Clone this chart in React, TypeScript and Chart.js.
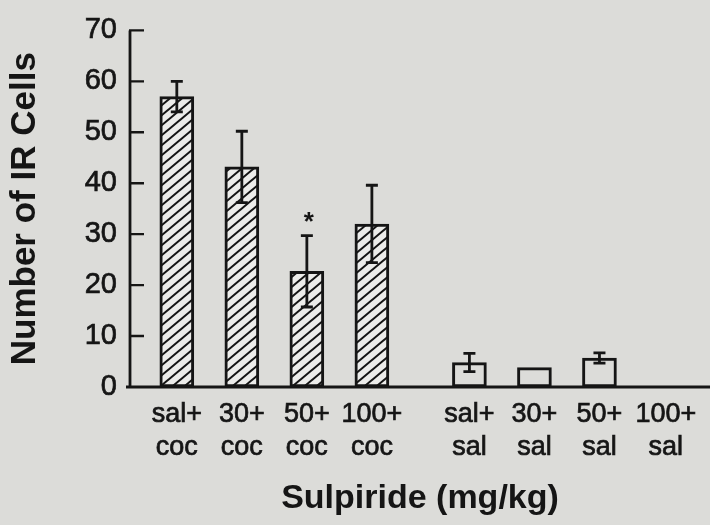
import React, { useEffect, useRef } from "react";
import { Chart, registerables } from "chart.js";

Chart.register(...registerables);

// ---- data ----
const groupLabels = ["sal+", "30+", "50+", "100+", "sal+", "30+", "50+", "100+"];
const treatmentLabels = ["coc", "coc", "coc", "coc", "sal", "sal", "sal", "sal"];
const xSlots = [0, 1, 2, 3, 4.5, 5.5, 6.5, 7.52];
const meanCells = [57.0, 43.2, 22.7, 32.0, 4.8, 3.8, 5.7, null];
const semCells = [3.0, 7.0, 7.0, 7.6, 1.8, 0, 1.0, 0];
const hatched = [true, true, true, true, false, false, false, false];
const significant = [false, false, true, false, false, false, false, false];
const yTicks = [0, 10, 20, 30, 40, 50, 60, 70];

const BG = "#dcdcd9";
const INK = "#151515";
const FONT = "'Liberation Sans', Arial, Helvetica, sans-serif";

function makeHatch(): CanvasPattern | string {
  const c = document.createElement("canvas");
  const w = 12;
  const h = 10;
  c.width = w;
  c.height = h;
  const g = c.getContext("2d");
  if (!g) return "#eee";
  g.fillStyle = "#ececea";
  g.fillRect(0, 0, w, h);
  g.strokeStyle = INK;
  g.lineWidth = 2;
  g.lineCap = "square";
  g.beginPath();
  for (let k = -1; k <= 1; k++) {
    g.moveTo(k * w, h);
    g.lineTo(k * w + w, 0);
  }
  g.stroke();
  const p = g.createPattern(c, "repeat");
  return p || "#eee";
}

const decorPlugin = {
  id: "decor",
  afterDatasetsDraw(chart: any) {
    const ctx = chart.ctx;
    const xs = chart.scales.x;
    const ys = chart.scales.y;
    const area = chart.chartArea;
    ctx.save();
    ctx.strokeStyle = INK;
    ctx.fillStyle = INK;
    // axes
    ctx.lineWidth = 2.8;
    ctx.lineCap = "butt";
    ctx.beginPath();
    ctx.moveTo(area.left, ys.getPixelForValue(70));
    ctx.lineTo(area.left, ys.getPixelForValue(0));
    ctx.moveTo(area.left - 4, ys.getPixelForValue(0));
    ctx.lineTo(area.right, ys.getPixelForValue(0));
    ctx.stroke();
    // inward ticks
    ctx.lineWidth = 2.4;
    ctx.beginPath();
    yTicks.forEach((t) => {
      if (t === 0) return;
      const py = ys.getPixelForValue(t);
      ctx.moveTo(area.left - 1, py);
      ctx.lineTo(area.left + 14, py);
    });
    ctx.stroke();
    // error bars
    ctx.lineWidth = 2.8;
    meanCells.forEach((m, i) => {
      const e = semCells[i];
      if (m == null || !e) return;
      const px = xs.getPixelForValue(xSlots[i]);
      const top = ys.getPixelForValue(m + e);
      const bot = ys.getPixelForValue(m - e);
      const cap = 6;
      ctx.beginPath();
      ctx.moveTo(px, top);
      ctx.lineTo(px, bot);
      ctx.moveTo(px - cap, top);
      ctx.lineTo(px + cap, top);
      ctx.moveTo(px - cap, bot);
      ctx.lineTo(px + cap, bot);
      ctx.stroke();
    });
    // significance star
    ctx.font = `bold 26px ${FONT}`;
    ctx.textAlign = "center";
    ctx.textBaseline = "alphabetic";
    meanCells.forEach((m, i) => {
      if (!significant[i] || m == null) return;
      const px = xs.getPixelForValue(xSlots[i]);
      const top = ys.getPixelForValue(m + semCells[i]);
      ctx.fillText("*", px + 2, top - 6);
    });
    ctx.restore();
  },
};

export default function App() {
  const ref = useRef<HTMLCanvasElement | null>(null);
  useEffect(() => {
    if (!ref.current) return;
    const hatch = makeHatch();
    const chart = new Chart(ref.current, {
      type: "bar",
      data: {
        datasets: [
          {
            data: xSlots.map((x, i) => ({ x, y: meanCells[i] })) as any,
            backgroundColor: hatched.map((h) => (h ? hatch : BG)) as any,
            borderColor: INK,
            borderWidth: 3,
            borderSkipped: false,
            barThickness: 34,
          },
        ],
      },
      options: {
        responsive: false,
        animation: false,
        events: [],
        layout: { padding: { top: 21, right: 0, left: 0, bottom: 0 } },
        plugins: {
          legend: { display: false },
          tooltip: { enabled: false },
        },
        scales: {
          x: {
            type: "linear",
            offset: false,
            min: -0.72,
            max: 8.2,
            grid: { display: false, drawTicks: false, offset: false },
            border: { display: false },
            afterBuildTicks: (scale: any) => {
              scale.ticks = xSlots.map((v) => ({ value: v }));
            },
            afterFit: (scale: any) => {
              scale.height = 138;
            },
            ticks: {
              autoSkip: false,
              maxRotation: 0,
              padding: 11,
              color: INK,
              textStrokeColor: INK,
              textStrokeWidth: 0.7,
              font: { family: FONT, size: 27, lineHeight: 1.22 },
              callback: (_v: any, i: number) => [groupLabels[i], treatmentLabels[i]],
            },
            title: {
              display: true,
              text: "Sulpiride (mg/kg)",
              color: INK,
              font: { family: FONT, size: 34, weight: "bold", lineHeight: 1.2 },
              padding: { top: 0, bottom: 6 },
            },
          },
          y: {
            min: 0,
            max: 70,
            grid: { display: false, drawTicks: false },
            border: { display: false },
            afterBuildTicks: (scale: any) => {
              scale.ticks = yTicks.map((v) => ({ value: v }));
            },
            afterFit: (scale: any) => {
              scale.width = 130;
            },
            ticks: {
              padding: 13,
              color: INK,
              textStrokeColor: INK,
              textStrokeWidth: 0.7,
              font: { family: FONT, size: 29, lineHeight: 1.2 },
            },
            title: {
              display: true,
              text: "Number of IR Cells",
              color: INK,
              font: { family: FONT, size: 35, weight: "bold", lineHeight: 1.2 },
              padding: { top: 4, bottom: 0 },
            },
          },
        },
      },
      plugins: [decorPlugin],
    });
    return () => chart.destroy();
  }, []);
  return (
    <div style={{ position: "fixed", left: 0, top: 0, width: 710, height: 525, background: BG }}>
      <canvas ref={ref} width={710} height={525} style={{ display: "block" }} />
    </div>
  );
}
